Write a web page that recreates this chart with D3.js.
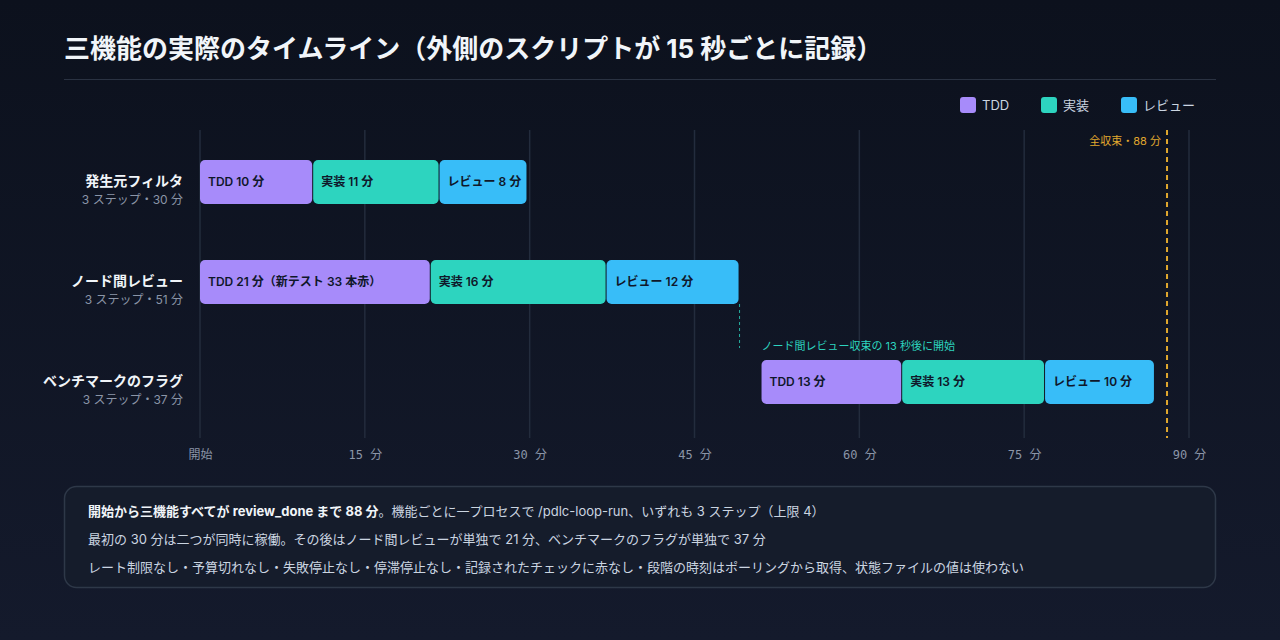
<!DOCTYPE html>
<html><head><meta charset="utf-8">
<script src="https://cdn.jsdelivr.net/npm/d3@7/dist/d3.min.js"></script>
<style>
body{margin:0;background:#0e1320;}
svg{display:block;font-family:Inter,"Noto Sans CJK JP",sans-serif;}
</style></head><body>
<svg id="chart" width="1280" height="640"></svg>
<script>
const rows = ["発生元フィルタ", "ノード間レビュー", "ベンチマークのフラグ"];
const rowSubs = ["3 ステップ・30 分", "3 ステップ・51 分", "3 ステップ・37 分"];
const phases = ["TDD", "実装", "レビュー"];
const phaseColors = ["#a78bfa", "#2dd4bf", "#38bdf8"];
// [row, phase, start min, end min, label]
const segments = [
  [0, 0, 0, 10.3, "TDD 10 分"],
  [0, 1, 10.3, 21.8, "実装 11 分"],
  [0, 2, 21.8, 29.8, "レビュー 8 分"],
  [1, 0, 0, 21.0, "TDD 21 分（新テスト 33 本赤）"],
  [1, 1, 21.0, 37.0, "実装 16 分"],
  [1, 2, 37.0, 49.1, "レビュー 12 分"],
  [2, 0, 51.1, 63.9, "TDD 13 分"],
  [2, 1, 63.9, 76.9, "実装 13 分"],
  [2, 2, 76.9, 86.9, "レビュー 10 分"]
];
const xTicks = [0, 15, 30, 45, 60, 75, 90];
const doneAt = 88;
const handoffAt = 49.1;
const notes = [
  [["開始から三機能すべてが review_done まで 88 分", true], ["。機能ごとに一プロセスで /pdlc-loop-run、いずれも 3 ステップ（上限 4）", false]],
  [["最初の 30 分は二つが同時に稼働。その後はノード間レビューが単独で 21 分、ベンチマークのフラグが単独で 37 分", false]],
  [["レート制限なし・予算切れなし・失敗停止なし・停滞停止なし・記録されたチェックに赤なし・段階の時刻はポーリングから取得、状態ファイルの値は使わない", false]]
];

const svg = d3.select("#chart");
const defs = svg.append("defs");
const g = defs.append("linearGradient").attr("id", "bg").attr("x1", 0).attr("y1", 0).attr("x2", 0).attr("y2", 1);
g.append("stop").attr("offset", "0%").attr("stop-color", "#0c111d");
g.append("stop").attr("offset", "100%").attr("stop-color", "#141a2c");
svg.append("rect").attr("width", 1280).attr("height", 640).attr("fill", "url(#bg)");

svg.append("text").attr("x", 64).attr("y", 58).attr("fill", "#f1f5f9")
  .attr("font-size", 26).attr("font-weight", 700)
  .text("三機能の実際のタイムライン（外側のスクリプトが 15 秒ごとに記録）");
svg.append("line").attr("x1", 64).attr("x2", 1216).attr("y1", 79.5).attr("y2", 79.5).attr("stroke", "#2a3242");

// legend
const lx = [960, 1041, 1121];
phases.forEach((p, i) => {
  svg.append("rect").attr("x", lx[i]).attr("y", 97).attr("width", 16).attr("height", 16).attr("rx", 3).attr("fill", phaseColors[i]);
  svg.append("text").attr("x", lx[i] + 22).attr("y", 110).attr("fill", "#cbd5e1").attr("font-size", 13).text(p);
});

const x = d3.scaleLinear().domain([0, 90]).range([200, 1189]);
const y = d3.scaleBand().domain(d3.range(rows.length)).range([132, 432]).paddingInner(0.56).paddingOuter(0.28);

// grid
svg.append("g").selectAll("line").data(xTicks).join("line")
  .attr("x1", d => x(d)).attr("x2", d => x(d)).attr("y1", 130).attr("y2", 438)
  .attr("stroke", "#232c3d").attr("stroke-width", 1.5);

const axis = svg.append("g").attr("transform", "translate(0,438)")
  .call(d3.axisBottom(x).tickValues(xTicks).tickSize(0).tickPadding(12).tickFormat(d => d === 0 ? "開始" : d + " 分"));
axis.select(".domain").remove();
axis.selectAll("text").attr("fill", "#8b95a7").attr("font-size", 12)
  .attr("font-family", "'DejaVu Sans Mono','Noto Sans CJK JP',monospace");

// row labels
rows.forEach((r, i) => {
  const cy = y(i) + y.bandwidth() / 2;
  svg.append("text").attr("x", 183).attr("y", cy + 4).attr("text-anchor", "end")
    .attr("fill", "#f1f5f9").attr("font-size", 14).attr("font-weight", 700).text(r);
  svg.append("text").attr("x", 183).attr("y", cy + 22).attr("text-anchor", "end")
    .attr("fill", "#8b95a7").attr("font-size", 12).text(rowSubs[i]);
});

// bars
const bars = svg.append("g").selectAll("g").data(segments).join("g");
bars.append("rect")
  .attr("x", d => x(d[2])).attr("y", d => y(d[0]))
  .attr("width", d => x(d[3]) - x(d[2]) - 1).attr("height", y.bandwidth())
  .attr("rx", 5).attr("fill", d => phaseColors[d[1]]);
bars.append("text")
  .attr("x", d => x(d[2]) + 8).attr("y", d => y(d[0]) + y.bandwidth() / 2 + 4)
  .attr("fill", "#0f172a").attr("font-size", 12).attr("font-weight", 600).text(d => d[4]);

// handoff
svg.append("line").attr("x1", x(handoffAt)).attr("x2", x(handoffAt))
  .attr("y1", y(1) + y.bandwidth()).attr("y2", y(2) - 12)
  .attr("stroke", "#2dd4bf").attr("stroke-dasharray", "3,3").attr("opacity", 0.8);
svg.append("text").attr("x", x(segments[6][2])).attr("y", y(2) - 10)
  .attr("fill", "#2dd4bf").attr("font-size", 11).text("ノード間レビュー収束の 13 秒後に開始");

// done line
svg.append("line").attr("x1", x(doneAt)).attr("x2", x(doneAt)).attr("y1", 130).attr("y2", 438)
  .attr("stroke", "#e0a82e").attr("stroke-width", 2).attr("stroke-dasharray", "5,4");
svg.append("text").attr("x", x(doneAt) - 6).attr("y", 145).attr("text-anchor", "end")
  .attr("fill", "#e0a82e").attr("font-size", 11).text("全収束・" + doneAt + " 分");

// notes box
svg.append("rect").attr("x", 64.5).attr("y", 486.5).attr("width", 1151).attr("height", 101).attr("rx", 12)
  .attr("fill", "#151c2b").attr("stroke", "#2e3848").attr("stroke-width", 1.5);
notes.forEach((line, i) => {
  const t = svg.append("text").attr("x", 88).attr("y", 516 + i * 28).attr("font-size", 13).attr("fill", "#cbd5e1");
  line.forEach(([s, b]) => t.append("tspan").attr("font-weight", b ? 700 : 400).attr("fill", b ? "#f1f5f9" : "#cbd5e1").text(s));
});
</script></body></html>
